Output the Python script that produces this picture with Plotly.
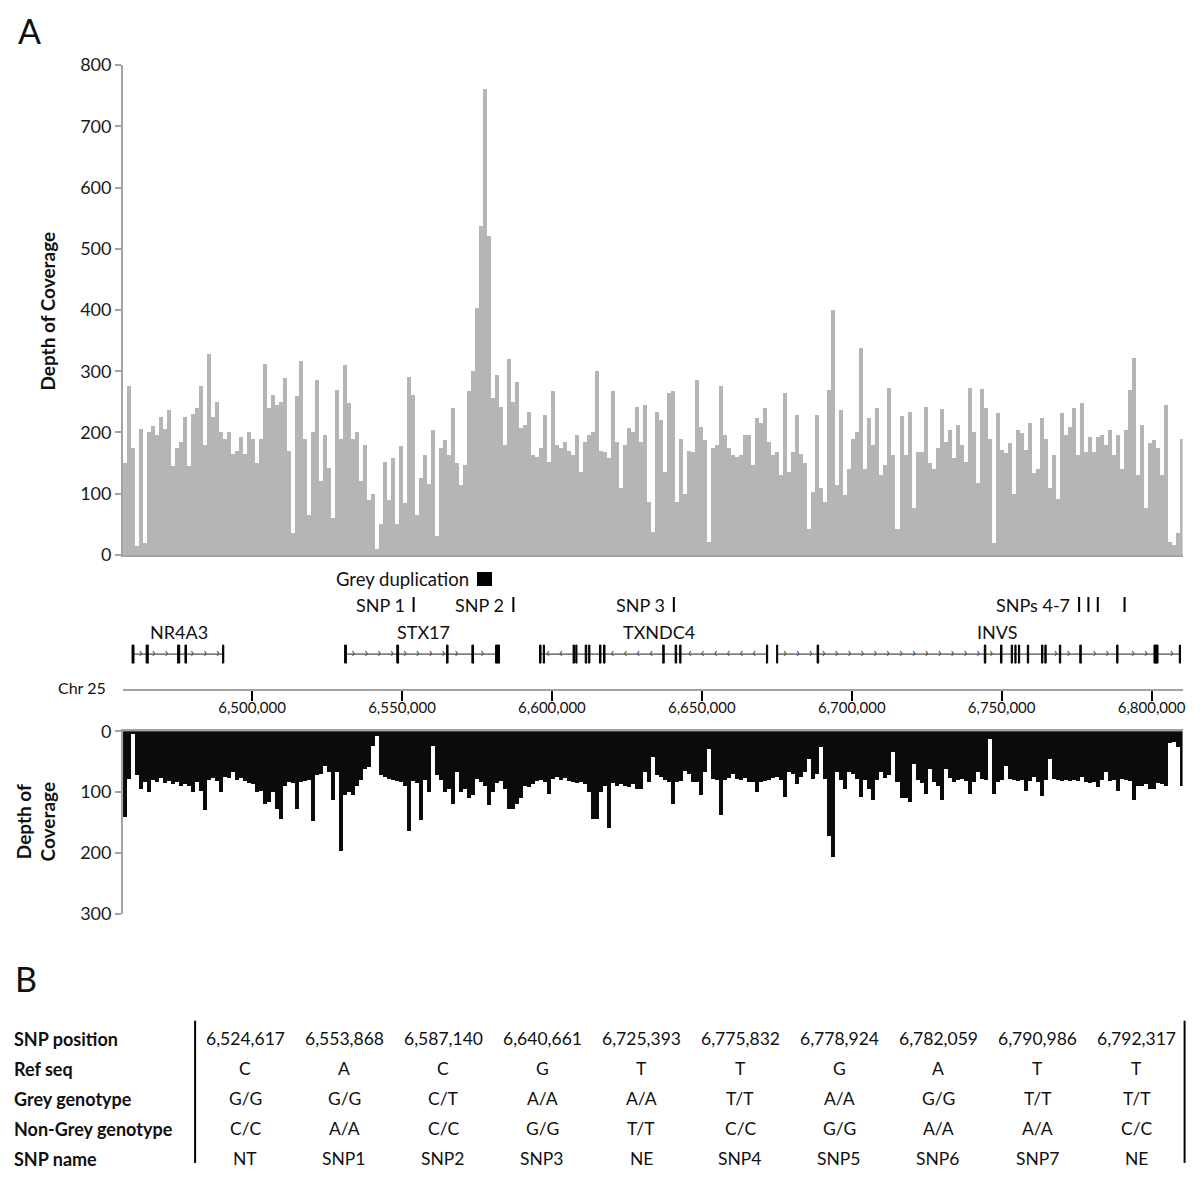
import numpy as np
import plotly.graph_objects as go

# ---------------- DATA ----------------
# Coverage bins (regular genomic windows along Chr 25)
BIN_START = 6456953
BIN_SIZE = 1335

GREY_DEPTH = [
    150, 275, 175, 15, 205, 20, 200, 210, 195, 225,
    205, 237, 145, 175, 185, 225, 145, 230, 240, 275,
    180, 328, 225, 250, 200, 190, 200, 165, 170, 192,
    165, 200, 190, 150, 190, 311, 240, 261, 245, 250,
    288, 170, 35, 260, 316, 190, 65, 200, 286, 120,
    196, 142, 60, 270, 190, 310, 248, 190, 200, 120,
    180, 90, 100, 10, 50, 152, 90, 158, 50, 177,
    85, 291, 261, 65, 125, 163, 115, 204, 30, 174,
    188, 163, 240, 150, 114, 147, 267, 300, 403, 537,
    760, 520, 256, 294, 242, 180, 320, 250, 283, 207,
    212, 234, 163, 160, 174, 229, 152, 267, 180, 175,
    185, 170, 163, 196, 136, 185, 196, 200, 300, 170,
    168, 158, 267, 185, 109, 180, 207, 201, 242, 185,
    245, 87, 38, 234, 220, 136, 264, 268, 87, 190,
    100, 170, 168, 286, 209, 188, 21, 174, 180, 275,
    196, 174, 163, 160, 163, 196, 196, 147, 223, 215,
    240, 185, 163, 168, 130, 264, 136, 168, 229, 165,
    150, 43, 103, 229, 109, 87, 270, 400, 114, 237,
    98, 141, 190, 200, 338, 141, 223, 180, 240, 130,
    147, 272, 163, 43, 226, 163, 234, 76, 168, 168,
    242, 150, 140, 174, 238, 185, 204, 158, 212, 180,
    152, 272, 200, 117, 271, 240, 190, 20, 231, 171,
    166, 182, 100, 204, 199, 171, 215, 133, 141, 223,
    190, 109, 163, 92, 231, 196, 209, 240, 163, 248,
    168, 193, 168, 193, 196, 180, 204, 163, 196, 141,
    204, 270, 321, 130, 212, 76, 182, 188, 174, 130,
    245, 21, 16, 35, 190,
]

NONGREY_DEPTH = [
    141, 79, 5, 73, 95, 84, 100, 80, 84, 78,
    85, 82, 88, 84, 90, 88, 90, 100, 84, 98,
    130, 80, 78, 82, 100, 75, 77, 68, 80, 78,
    82, 85, 88, 100, 98, 120, 117, 100, 128, 144,
    90, 84, 86, 128, 84, 82, 80, 148, 73, 70,
    57, 68, 114, 68, 197, 106, 100, 106, 90, 80,
    62, 60, 24, 8, 73, 75, 79, 80, 82, 84,
    90, 165, 82, 85, 147, 80, 100, 24, 73, 80,
    100, 95, 120, 68, 100, 95, 111, 105, 79, 84,
    90, 122, 100, 85, 82, 95, 128, 128, 120, 111,
    90, 92, 88, 82, 80, 84, 103, 79, 76, 80,
    78, 82, 84, 86, 84, 88, 100, 144, 144, 100,
    90, 160, 85, 90, 88, 90, 92, 88, 95, 95,
    68, 84, 43, 73, 75, 80, 84, 120, 84, 82,
    65, 70, 84, 84, 106, 68, 30, 79, 80, 138,
    80, 78, 70, 79, 80, 78, 84, 84, 100, 84,
    82, 80, 78, 76, 80, 109, 68, 70, 87, 75,
    68, 46, 79, 70, 26, 79, 172, 207, 68, 80,
    95, 68, 70, 79, 109, 80, 95, 114, 80, 68,
    78, 73, 35, 84, 111, 111, 117, 54, 80, 85,
    103, 62, 84, 90, 114, 62, 78, 84, 80, 79,
    82, 103, 84, 68, 79, 80, 13, 103, 84, 80,
    57, 79, 80, 82, 80, 98, 82, 76, 84, 107,
    80, 46, 79, 80, 82, 81, 83, 81, 82, 76,
    84, 86, 84, 92, 80, 68, 82, 80, 98, 79,
    80, 82, 114, 90, 90, 88, 95, 95, 85, 88,
    90, 20, 18, 26, 90,
]

X_RANGE = [6456953, 6810345]
CHR_TICKS = [6500000, 6550000, 6600000, 6650000, 6700000, 6750000, 6800000]
TOP_TICKS = [0, 100, 200, 300, 400, 500, 600, 700, 800]
BOTTOM_TICKS = [0, 100, 200, 300]

GENE_NAMES = ["NR4A3", "STX17", "TXNDC4", "INVS"]
GENE_STARTS = [6460256, 6531168, 6596106, 6675126]
GENE_ENDS = [6490390, 6581923, 6671789, 6809440]
GENE_STRANDS = ["+", "+", "-", "+"]
GENE_LABEL_POS = [6475500, 6557063, 6635816, 6748600]
GENE_EXONS = [
    [(6459950, 6460600), (6464650, 6465350), (6475150, 6475850), (6477600, 6478100), (6490150, 6490550)],
    [(6530850, 6531450), (6548250, 6548850), (6564850, 6565350), (6573300, 6573850), (6581200, 6582500)],
    [(6595850, 6596350), (6597100, 6597500), (6607050, 6607550), (6607950, 6608350), (6611100, 6611600),
     (6612250, 6612650), (6615850, 6616350), (6617200, 6617700), (6636950, 6637450), (6641100, 6641600),
     (6642600, 6643050), (6671550, 6671950)],
    [(6674950, 6675300), (6688450, 6688950), (6744200, 6744700), (6749600, 6750100), (6753200, 6753600),
     (6754400, 6754800), (6755600, 6756000), (6758550, 6759000), (6763300, 6763750), (6764400, 6764850),
     (6769250, 6769700), (6776050, 6776550), (6788350, 6788800), (6800800, 6802150), (6809250, 6809650)],
]

DUP_START, DUP_END = 6575000, 6580000

# Table (panel B)
ROW_LABELS = ["SNP position", "Ref seq", "Grey genotype", "Non-Grey genotype", "SNP name"]
SNP_POSITIONS = [6524617, 6553868, 6587140, 6640661, 6725393, 6775832, 6778924, 6782059, 6790986, 6792317]
REF_SEQ = ["C", "A", "C", "G", "T", "T", "G", "A", "T", "T"]
GREY_GENOTYPE = ["G/G", "G/G", "C/T", "A/A", "A/A", "T/T", "A/A", "G/G", "T/T", "T/T"]
NONGREY_GENOTYPE = ["C/C", "A/A", "C/C", "G/G", "T/T", "C/C", "G/G", "A/A", "A/A", "C/C"]
SNP_NAMES = ["NT", "SNP1", "SNP2", "SNP3", "NE", "SNP4", "SNP5", "SNP6", "SNP7", "NE"]

TRACK_SNPS = [p for p, n in zip(SNP_POSITIONS, SNP_NAMES) if n.startswith("SNP")]
SNP_TRACK_LABELS = {"SNP1": "SNP 1", "SNP2": "SNP 2", "SNP3": "SNP 3", "SNP4": "SNPs 4-7"}

# ---------------- LAYOUT HELPERS ----------------
W = H = 1200
FONT = "Lato"
AXIS_GREY = "#a3a3a3"


def py(p):
    # target pixel row -> paper coordinate (calibrated to the rendered page)
    return 1 - ((p - 11) / 0.98) / H


def pxx(p):
    # target pixel column -> paper coordinate (calibrated to the rendered page)
    return (p / 0.997) / W


bin_centers = [BIN_START + BIN_SIZE * (i + 0.5) for i in range(len(GREY_DEPTH))]

fig = go.Figure()

fig.add_trace(go.Bar(x=bin_centers, y=GREY_DEPTH, width=BIN_SIZE,
                     marker=dict(color="#b5b5b7", line=dict(width=0)),
                     xaxis="x", yaxis="y", hoverinfo="skip"))

fig.add_trace(go.Bar(x=bin_centers, y=NONGREY_DEPTH, width=BIN_SIZE,
                     marker=dict(color="#0b0b0d", line=dict(width=0)),
                     xaxis="x3", yaxis="y3", hoverinfo="skip"))

GENE_Y, LABEL_Y, SNP_Y, DUP_Y = 652, 630, 603, 577
ix, iy = [], []
chev_x, chev_t = [], []
for s, e, strand, exons in zip(GENE_STARTS, GENE_ENDS, GENE_STRANDS, GENE_EXONS):
    ix += [s, e, None]
    iy += [GENE_Y, GENE_Y, None]
    for c in np.arange(s + 2600, e - 1500, 4300):
        if all(abs(c - (a + b) / 2) > 1200 for a, b in exons):
            chev_x.append(c)
            chev_t.append("›" if strand == "+" else "‹")

fig.add_trace(go.Scatter(x=ix, y=iy, mode="lines", line=dict(color="#222", width=1),
                         xaxis="x2", yaxis="y2", hoverinfo="skip"))
fig.add_trace(go.Scatter(x=chev_x, y=[GENE_Y - 1] * len(chev_x), mode="text", text=chev_t,
                         textfont=dict(size=14, color="#444", family=FONT),
                         xaxis="x2", yaxis="y2", hoverinfo="skip"))

shapes = []
for exons in GENE_EXONS:
    for a, b in exons:
        shapes.append(dict(type="rect", xref="x2", yref="y2", x0=a, x1=b,
                           y0=GENE_Y - 9, y1=GENE_Y + 9,
                           fillcolor="black", line=dict(color="black", width=1)))

for p in TRACK_SNPS:
    shapes.append(dict(type="line", xref="x2", yref="y2", x0=p, x1=p,
                       y0=SNP_Y - 8, y1=SNP_Y + 7, line=dict(color="black", width=2)))

shapes.append(dict(type="rect", xref="x2", yref="y2", x0=DUP_START, x1=DUP_END,
                   y0=DUP_Y - 7, y1=DUP_Y + 7, fillcolor="black", line=dict(width=0)))

shapes.append(dict(type="line", xref="paper", yref="paper", x0=pxx(195), x1=pxx(195),
                   y0=py(1018), y1=py(1160), line=dict(color="black", width=2)))
shapes.append(dict(type="line", xref="paper", yref="paper", x0=pxx(1184), x1=pxx(1184),
                   y0=py(1018), y1=py(1160), line=dict(color="black", width=2)))

ann = []
txt = dict(family=FONT, color="#111")


def note(text, x, y, size=16, xref="paper", yref="paper", xanchor="center", yanchor="middle", **kw):
    ann.append(dict(text=text, x=x, y=y, xref=xref, yref=yref, xanchor=xanchor, yanchor=yanchor,
                    showarrow=False, font=dict(size=size, **txt), **kw))


note("A", pxx(29), py(29), size=34)
note("B", pxx(26), py(976), size=34)
note("<b>Depth of Coverage</b>", pxx(47), py(310), size=19, textangle=-90)
note("<b>Depth of<br>Coverage</b>", pxx(36), py(820), size=19, textangle=-90)
note("Chr 25", pxx(108), py(685), xanchor="right", size=16)

for name, pos in zip(GENE_NAMES, GENE_LABEL_POS):
    note(name, pos, LABEL_Y, xref="x2", yref="y2", size=18)

for p, n in zip(SNP_POSITIONS, SNP_NAMES):
    if n in SNP_TRACK_LABELS:
        note(SNP_TRACK_LABELS[n], p, SNP_Y, xref="x2", yref="y2", xanchor="right", xshift=-7, size=18)

note("Grey duplication", DUP_START, DUP_Y, xref="x2", yref="y2", xanchor="right", xshift=-6, size=18.5)

table_rows = [[f"{v:,}" for v in SNP_POSITIONS], REF_SEQ, GREY_GENOTYPE, NONGREY_GENOTYPE, SNP_NAMES]
for r, (label, row) in enumerate(zip(ROW_LABELS, table_rows)):
    yy = py(1036 + 30 * r)
    note(f"<b>{label}</b>", pxx(12), yy, xanchor="left", size=18)
    for j, val in enumerate(row):
        note(val, pxx(245 + 99 * j), yy, size=17.5)

xdom = [pxx(123), pxx(1182)]
tickfont = dict(size=18, family=FONT, color="#1a1a1a")

fig.update_layout(
    width=W, height=H,
    margin=dict(l=0, r=0, t=0, b=0),
    paper_bgcolor="white", plot_bgcolor="white",
    showlegend=False, bargap=0,
    font=dict(family=FONT),
    xaxis=dict(domain=xdom, range=X_RANGE, anchor="y", showline=True, linecolor=AXIS_GREY,
               linewidth=2, showticklabels=False, ticks="", showgrid=False, zeroline=False),
    yaxis=dict(domain=[py(553), py(64)], range=[0, 800], anchor="x", tickvals=TOP_TICKS,
               ticks="outside", ticklen=6, tickwidth=2, tickcolor=AXIS_GREY, showline=True,
               linecolor=AXIS_GREY, linewidth=2, tickfont=tickfont, showgrid=False, zeroline=False),
    xaxis2=dict(domain=xdom, matches="x", anchor="y2", showline=True, linecolor=AXIS_GREY,
                linewidth=2, ticks="outside", ticklen=10, tickwidth=2, tickcolor="black",
                tickvals=CHR_TICKS, ticktext=[f"{t:,}" for t in CHR_TICKS], ticklabelstandoff=-6,
                tickfont=dict(size=15, family=FONT, color="#111"), showgrid=False, zeroline=False),
    yaxis2=dict(domain=[py(687), py(560)], range=[687, 560], anchor="x2", visible=False),
    xaxis3=dict(domain=xdom, matches="x", anchor="y3", side="top", showline=True,
                linecolor=AXIS_GREY, linewidth=2, showticklabels=False, ticks="",
                showgrid=False, zeroline=False),
    yaxis3=dict(domain=[py(911), py(729)], range=[300, 0], anchor="x3", tickvals=BOTTOM_TICKS,
                ticks="outside", ticklen=6, tickwidth=2, tickcolor=AXIS_GREY, showline=True,
                linecolor=AXIS_GREY, linewidth=2, tickfont=tickfont, showgrid=False, zeroline=False),
    shapes=shapes,
    annotations=ann,
)

fig.write_html("out.html", config={"displayModeBar": False},
               post_script="document.body.style.margin='0px';")
